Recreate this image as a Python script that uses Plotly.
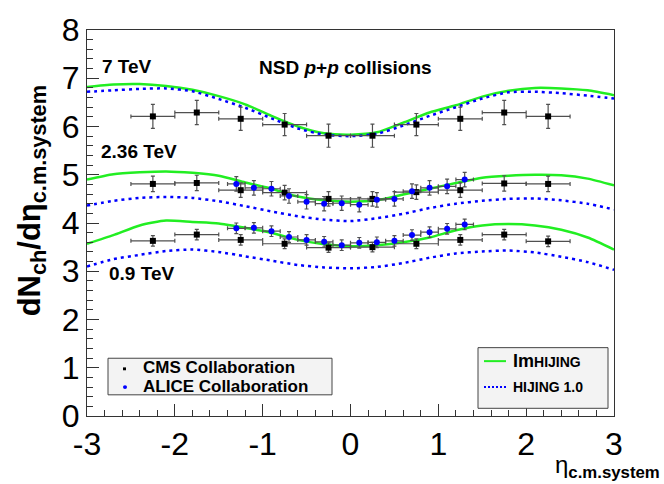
import plotly.graph_objects as go

# ---------------- data ----------------
eta_grid = [-3.0, -2.7, -2.4, -2.1, -1.8, -1.5, -1.2, -0.9, -0.6, -0.3, 0.0,
            0.3, 0.6, 0.9, 1.2, 1.5, 1.8, 2.1, 2.4, 2.7, 3.0]

imhijing_7 = [6.82, 6.87, 6.88, 6.84, 6.76, 6.63, 6.46, 6.22, 6.00, 5.86, 5.83,
              5.88, 6.08, 6.29, 6.44, 6.62, 6.74, 6.80, 6.79, 6.75, 6.65]
hijing_7 = [6.72, 6.75, 6.78, 6.79, 6.73, 6.57, 6.39, 6.17, 5.96, 5.83, 5.80,
            5.85, 6.02, 6.22, 6.40, 6.58, 6.71, 6.72, 6.69, 6.64, 6.58]
imhijing_236 = [4.90, 5.01, 5.05, 5.07, 5.04, 4.98, 4.84, 4.71, 4.55, 4.47, 4.44,
                4.47, 4.59, 4.71, 4.83, 4.94, 4.98, 5.00, 4.99, 4.92, 4.78]
hijing_236 = [4.36, 4.46, 4.52, 4.54, 4.52, 4.45, 4.35, 4.24, 4.14, 4.07, 4.04,
              4.10, 4.19, 4.31, 4.40, 4.46, 4.50, 4.51, 4.47, 4.40, 4.28]
imhijing_09 = [3.57, 3.75, 3.95, 4.05, 4.02, 3.99, 3.90, 3.80, 3.65, 3.56, 3.52,
               3.54, 3.60, 3.70, 3.85, 3.95, 3.98, 3.95, 3.86, 3.70, 3.45]
hijing_09 = [3.10, 3.25, 3.34, 3.42, 3.45, 3.40, 3.31, 3.22, 3.13, 3.08, 3.06,
             3.09, 3.17, 3.28, 3.37, 3.41, 3.43, 3.39, 3.30, 3.19, 3.03]

eta_cms = [-2.25, -1.75, -1.25, -0.75, -0.25, 0.25, 0.75, 1.25, 1.75, 2.25]
eta_cms_err = [0.25] * 10
cms_7 = [6.21, 6.29, 6.16, 6.04, 5.81, 5.81, 6.04, 6.16, 6.29, 6.21]
cms_7_err = [0.25, 0.25, 0.24, 0.23, 0.24, 0.24, 0.23, 0.24, 0.25, 0.25]
cms_236 = [4.81, 4.83, 4.68, 4.63, 4.50, 4.50, 4.64, 4.68, 4.82, 4.81]
cms_236_err = [0.16, 0.16, 0.15, 0.15, 0.15, 0.15, 0.15, 0.15, 0.16, 0.16]
cms_09 = [3.63, 3.76, 3.65, 3.57, 3.49, 3.50, 3.57, 3.65, 3.76, 3.62]
cms_09_err = [0.11, 0.11, 0.11, 0.10, 0.10, 0.10, 0.10, 0.11, 0.11, 0.11]

eta_alice = [-1.3, -1.1, -0.9, -0.7, -0.5, -0.3, -0.1, 0.1, 0.3, 0.5, 0.7, 0.9, 1.1, 1.3]
eta_alice_err = [0.1] * 14
alice_236 = [4.81, 4.73, 4.71, 4.56, 4.44, 4.40, 4.41, 4.38, 4.48, 4.50, 4.66, 4.73, 4.76, 4.90]
alice_236_err = [0.15] * 14
alice_09 = [3.89, 3.90, 3.83, 3.71, 3.65, 3.61, 3.54, 3.59, 3.60, 3.63, 3.75, 3.81, 3.88, 3.97]
alice_09_err = [0.11] * 14

x_ticks = [-3, -2, -1, 0, 1, 2, 3]
x_tick_labels = ["-3", "-2", "-1", "0", "1", "2", "3"]
y_ticks = [0, 1, 2, 3, 4, 5, 6, 7, 8]
y_tick_labels = ["0", "1", "2", "3", "4", "5", "6", "7", "8"]

# ---------------- style ----------------
FONT = "Liberation Sans, Arial, Helvetica, sans-serif"
GREEN = "#22ee22"
BLUE = "#0000ff"
W, H = 664, 484
L, R, T, B = 87, 614, 15, 416


def px(xp):
    return (xp - L) / (R - L)


def py(yp):
    return (B - yp) / (B - T)


fig = go.Figure()

for y in (imhijing_7, imhijing_236, imhijing_09):
    fig.add_trace(go.Scatter(x=eta_grid, y=y, mode="lines",
                             line=dict(color=GREEN, width=2.5, shape="spline", smoothing=0.6),
                             showlegend=False, hoverinfo="skip"))
for y in (hijing_7, hijing_236, hijing_09):
    fig.add_trace(go.Scatter(x=eta_grid, y=y, mode="lines",
                             line=dict(color=BLUE, width=2.5, dash="3px,4px", shape="spline", smoothing=0.6),
                             showlegend=False, hoverinfo="skip"))

err_col = "#505050"
for y, e in ((cms_7, cms_7_err), (cms_236, cms_236_err), (cms_09, cms_09_err)):
    fig.add_trace(go.Scatter(
        x=eta_cms, y=y, mode="markers",
        marker=dict(symbol="square", size=6, color="black"),
        error_x=dict(type="data", array=eta_cms_err, color=err_col, thickness=1.2, width=2),
        error_y=dict(type="data", array=e, color=err_col, thickness=1.2, width=2),
        showlegend=False))
for y, e in ((alice_236, alice_236_err), (alice_09, alice_09_err)):
    fig.add_trace(go.Scatter(
        x=eta_alice, y=y, mode="markers",
        marker=dict(symbol="circle", size=6, color=BLUE),
        error_x=dict(type="data", array=eta_alice_err, color=err_col, thickness=1.2, width=2),
        error_y=dict(type="data", array=e, color=err_col, thickness=1.2, width=2),
        showlegend=False))

axis_common = dict(
    showgrid=False, zeroline=False, showline=True, mirror=True,
    linecolor="#333333", linewidth=1,
    ticks="inside", ticklen=12, tickwidth=1, tickcolor="#333333",
    tickfont=dict(family=FONT, size=32, color="black"),
    ticklabeloverflow="allow",
)
fig.update_xaxes(range=[-3, 3], tickvals=x_ticks, ticktext=x_tick_labels,
                 minor=dict(ticks="inside", ticklen=6, dtick=0.2, tickcolor="#333333"),
                 **axis_common)
fig.update_yaxes(range=[0, 8.0005], tickvals=y_ticks, ticktext=y_tick_labels,
                 minor=dict(ticks="inside", ticklen=6, dtick=0.2, tickcolor="#333333"),
                 **axis_common)

ann = []
def text(x, y, s, size, xanchor="left", yanchor="middle", angle=0):
    ann.append(dict(x=x, y=y, xref="paper", yref="paper", text=s, showarrow=False,
                    xanchor=xanchor, yanchor=yanchor, textangle=angle,
                    font=dict(family=FONT, size=size, color="black")))

text(px(100), py(53), "<b>7 TeV</b>", 19)
text(px(345), py(54), "<b>NSD <i>p</i>+<i>p</i> collisions</b>", 19, xanchor="center")
text(px(99), py(141), "<b>2.36 TeV</b>", 19)
text(px(107), py(268), "<b>0.9 TeV</b>", 19)

# axis titles
text(px(32), py(193), "<b>dN<sub>ch</sub>/dη<sub>c.m.system</sub></b>", 31,
     xanchor="center", angle=-90)
text(px(662), py(468), "η<sub><b>c.m.system</b></sub>", 24, xanchor="right")

# legends (boxes)
shapes = []
shapes.append(dict(type="rect", xref="paper", yref="paper",
                   x0=px(108), x1=px(332), y0=py(394), y1=py(356),
                   line=dict(color="#444444", width=1), fillcolor="#f3f3f3"))
shapes.append(dict(type="rect", xref="paper", yref="paper",
                   x0=px(478), x1=px(608), y0=py(408), y1=py(345),
                   line=dict(color="#444444", width=1), fillcolor="#f3f3f3"))
# left legend markers
shapes.append(dict(type="rect", xref="paper", yref="paper",
                   x0=px(123), x1=px(126), y0=py(368.5), y1=py(365.5),
                   line=dict(width=0), fillcolor="black"))
shapes.append(dict(type="circle", xref="paper", yref="paper",
                   x0=px(123), x1=px(127), y0=py(388), y1=py(384),
                   line=dict(width=0), fillcolor=BLUE))
text(px(141), py(366), "<b>CMS Collaboration</b>", 17)
text(px(141), py(385), "<b>ALICE Collaboration</b>", 17)
# right legend
shapes.append(dict(type="line", xref="paper", yref="paper",
                   x0=px(484), x1=px(506), y0=py(359), y1=py(359),
                   line=dict(color=GREEN, width=2)))
shapes.append(dict(type="line", xref="paper", yref="paper",
                   x0=px(484), x1=px(506), y0=py(386), y1=py(386),
                   line=dict(color=BLUE, width=2, dash="2px,2px")))
text(px(511), py(359), "<b>Im<span style='font-size:14px'>HIJING</span></b>", 18)
text(px(511), py(386), "<b>HIJING 1.0</b>", 14)

fig.update_layout(
    width=W, height=H,
    margin=dict(l=L, r=W - R, t=T, b=H - B),
    paper_bgcolor="white", plot_bgcolor="white",
    showlegend=False,
    annotations=ann, shapes=shapes,
    font=dict(family=FONT),
)

fig.write_html("out.html")
